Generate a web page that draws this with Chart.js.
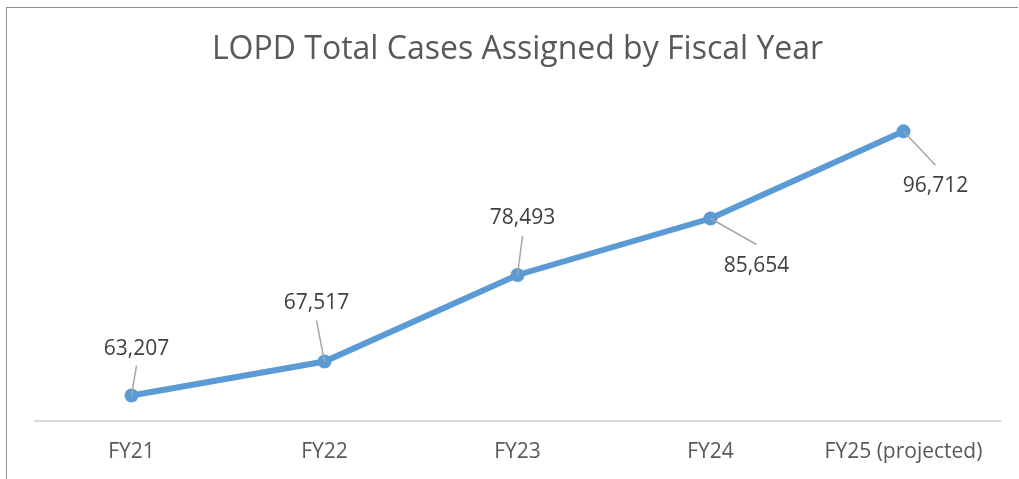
<!DOCTYPE html>
<html>
<head>
<meta charset="utf-8">
<script src="https://cdn.jsdelivr.net/npm/chart.js@4"></script>
<style>
  html, body { margin: 0; padding: 0; background: #fff; }
  #wrap { position: relative; width: 1019px; height: 479px; }
  #frame { position: absolute; left: 6px; top: 7px; width: 1012px; height: 472px;
           border-top: 1px solid #8c8c8c; border-left: 1px solid #8c8c8c; box-sizing: border-box; }
  canvas { position: absolute; left: 0; top: 0; }
</style>
</head>
<body>
<div id="wrap">
  <div id="frame"></div>
  <canvas id="chart" width="1019" height="479"></canvas>
</div>
<script>
// datos del grafico
const years = ["FY21", "FY22", "FY23", "FY24", "FY25 (projected)"];
const cases = [63207, 67517, 78493, 85654, 96712];

// posicion de las etiquetas respecto al punto (estilo, no datos)
const labelPos = [
  { lx: 5, ly: -30, tx: 5, ty: -46 },
  { lx: -8, ly: -41, tx: -8, ty: -59 },
  { lx: 5, ly: -39, tx: 5, ty: -57 },
  { lx: 46, ly: 26, tx: 46, ty: 47 },
  { lx: 32, ly: 34, tx: 32, ty: 55 }
];

const font = "'Open Sans', 'Noto Sans', sans-serif";

const leaderLabels = {
  id: "leaderLabels",
  afterDatasetsDraw(chart) {
    const ctx = chart.ctx;
    const meta = chart.getDatasetMeta(0);
    const data = chart.data.datasets[0].data;
    ctx.save();
    meta.data.forEach((pt, i) => {
      const p = labelPos[i];
      ctx.strokeStyle = "#a6a6a6";
      ctx.lineWidth = 1.5;
      ctx.beginPath();
      ctx.moveTo(pt.x, pt.y);
      ctx.lineTo(pt.x + p.lx, pt.y + p.ly);
      ctx.stroke();
      ctx.fillStyle = "#404040";
      ctx.font = "21px " + font;
      ctx.textAlign = "center";
      ctx.textBaseline = "middle";
      ctx.fillText(data[i].toLocaleString("en-US"), pt.x + p.tx, pt.y + p.ty);
    });
    ctx.restore();
  }
};

new Chart(document.getElementById("chart"), {
  type: "line",
  data: {
    labels: years,
    datasets: [{
      data: cases,
      borderColor: "#5b9bd5",
      backgroundColor: "#5b9bd5",
      borderWidth: 6,
      pointRadius: 7,
      pointBorderWidth: 0,
      tension: 0
    }]
  },
  options: {
    responsive: false,
    animation: false,
    events: [],
    layout: { padding: { left: 35, right: 19, top: 0, bottom: -5 } },
    plugins: {
      legend: { display: false },
      tooltip: { enabled: false },
      title: {
        display: true,
        text: "LOPD Total Cases Assigned by Fiscal Year",
        color: "#595959",
        font: { family: font, size: 32, weight: "normal", lineHeight: 1.2 },
        padding: { top: 31, bottom: 36 }
      }
    },
    scales: {
      x: {
        offset: true,
        grid: { display: false, drawTicks: false },
        border: { display: true, color: "#d9d9d9", width: 2 },
        ticks: { color: "#595959", font: { family: font, size: 21 }, padding: 19 }
      },
      y: {
        display: false,
        min: 60000,
        max: 100000
      }
    }
  },
  plugins: [leaderLabels]
});
</script>
</body>
</html>
